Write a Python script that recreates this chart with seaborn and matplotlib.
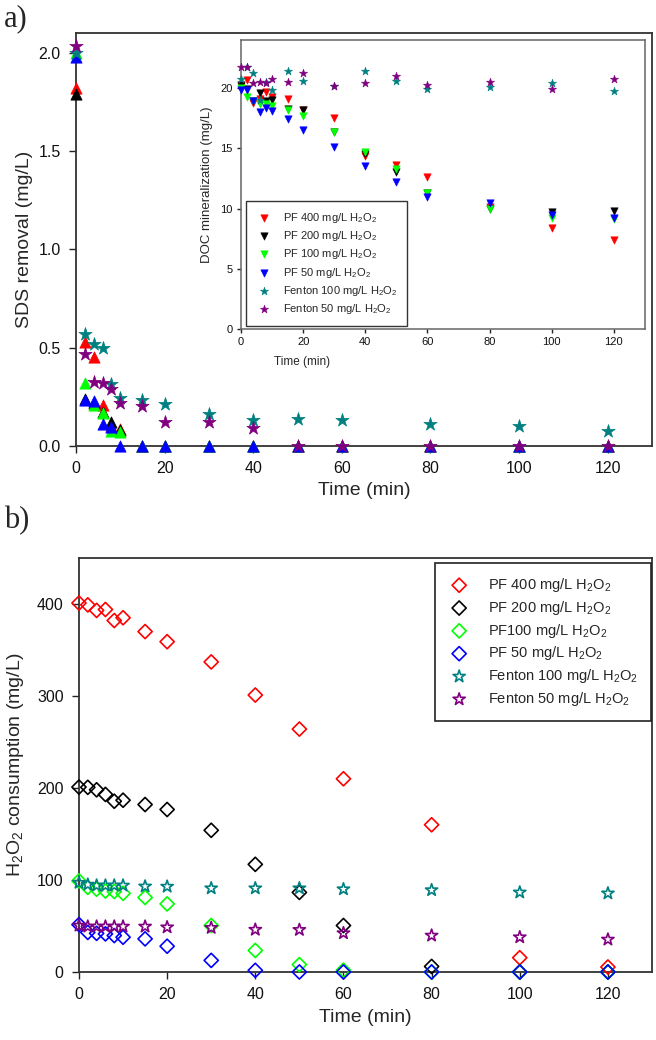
import numpy as np
import pandas as pd
import matplotlib
matplotlib.use("Agg")
import matplotlib.pyplot as plt
import seaborn as sns

sns.set_style("ticks")
plt.rcParams["font.family"] = ["Liberation Sans", "DejaVu Sans"]
plt.rcParams["mathtext.default"] = "regular"

# ---------------- data ----------------
times = [0, 2, 4, 6, 8, 10, 15, 20, 30, 40, 50, 60, 80, 100, 120]

series_a = ["PF 400 mg/L H$_2$O$_2$", "PF 200 mg/L H$_2$O$_2$", "PF 100 mg/L H$_2$O$_2$",
            "PF 50 mg/L H$_2$O$_2$", "Fenton 100 mg/L H$_2$O$_2$", "Fenton 50 mg/L H$_2$O$_2$"]
series_b = ["PF 400 mg/L H$_2$O$_2$", "PF 200 mg/L H$_2$O$_2$", "PF100 mg/L H$_2$O$_2$",
            "PF 50 mg/L H$_2$O$_2$", "Fenton 100 mg/L H$_2$O$_2$", "Fenton 50 mg/L H$_2$O$_2$"]
colors = ["#ff0000", "#000000", "#00ff00", "#0000ff", "#008080", "#800080"]

# (a) SDS removal (mg/L)
sds_pf400 = [1.82, 0.53, 0.45, 0.21, 0.10, 0.085, 0, 0, 0, 0, 0, 0, 0, 0, 0]
sds_pf200 = [1.79, 0.24, 0.22, 0.175, 0.124, 0.08, 0, 0, 0, 0, 0, 0, 0, 0, 0]
sds_pf100 = [2.00, 0.32, 0.21, 0.17, 0.075, 0.07, 0, 0, 0, 0, 0, 0, 0, 0, 0]
sds_pf50 = [1.98, 0.235, 0.23, 0.11, 0.095, 0.0, 0, 0, 0, 0, 0, 0, 0, 0, 0]
sds_fen100 = [2.00, 0.57, 0.52, 0.50, 0.316, 0.243, 0.234, 0.214, 0.161, 0.132, 0.136, 0.131, 0.110, 0.102, 0.076]
sds_fen50 = [2.036, 0.47, 0.325, 0.32, 0.29, 0.22, 0.205, 0.124, 0.124, 0.093, 0, 0, 0, 0, 0]

# (a, inset) DOC mineralization (mg/L)
doc_pf400 = [20.2, 20.7, 18.8, 19.1, 19.7, 19.3, 19.1, 18.2, 17.5, 14.4, 13.65, 12.6, 10.15, 8.4, 7.4]
doc_pf200 = [20.3, 19.9, 18.9, 19.6, 18.9, 19.0, 18.3, 18.15, 16.4, 14.5, 13.05, 11.3, 9.93, 9.74, 9.8]
doc_pf100 = [20.0, 19.25, 18.9, 18.65, 18.65, 18.55, 18.2, 17.65, 16.35, 14.7, 13.3, 11.3, 10.0, 9.2, 9.1]
doc_pf50 = [19.85, 19.85, 18.9, 18.05, 18.35, 18.1, 17.4, 16.55, 15.1, 13.5, 12.2, 11.0, 10.5, 9.45, 9.25]
doc_fen100 = [20.75, 21.8, 21.25, 19.0, 20.55, 19.85, 21.45, 20.6, 20.15, 21.4, 20.6, 19.95, 20.1, 20.4, 19.75]
doc_fen50 = [21.8, 21.8, 20.45, 20.5, 20.4, 20.8, 20.5, 21.25, 20.15, 20.45, 21.05, 20.3, 20.5, 19.95, 20.75]

# (b) H2O2 consumption (mg/L)
h2o2_pf400 = [401, 399, 393, 394, 382, 385, 370, 359, 337, 301, 264, 210, 160, 15.5, 5.4]
h2o2_pf200 = [201, 200.7, 198, 193, 185.6, 186.7, 182, 176.6, 154, 117, 86.5, 50.5, 6, 0, 0]
h2o2_pf100 = [99, 92, 90, 88, 87.5, 85.5, 81, 74, 50.5, 23.4, 8, 2, 0, 0, 0]
h2o2_pf50 = [51.5, 43, 42, 41.4, 39.6, 37.8, 36, 28, 12.6, 1.8, 0, 0, 0, 0, 0]
h2o2_fen100 = [97, 95, 94, 94, 94, 94, 93, 92.8, 91, 91, 91, 90, 89, 86.5, 85.5]
h2o2_fen50 = [50.5, 49.4, 49.4, 49.4, 49.4, 49.4, 49.4, 48.6, 48, 46, 45.8, 42.2, 39.6, 37.8, 35.3]

x_ticks = [0, 20, 40, 60, 80, 100, 120]

sds = [sds_pf400, sds_pf200, sds_pf100, sds_pf50, sds_fen100, sds_fen50]
doc = [doc_pf400, doc_pf200, doc_pf100, doc_pf50, doc_fen100, doc_fen50]
h2o2 = [h2o2_pf400, h2o2_pf200, h2o2_pf100, h2o2_pf50, h2o2_fen100, h2o2_fen50]

# ---------------- figure ----------------
fig = plt.figure(figsize=(6.56, 10.4), dpi=100)
ax_a = fig.add_axes([0.1159, 0.5712, 0.8780, 0.3971])
ax_in = fig.add_axes([0.3674, 0.6837, 0.6158, 0.2778])
ax_b = fig.add_axes([0.1204, 0.0654, 0.8735, 0.3981])

spine_col = "#333333"

def style(ax, lw=1.3, col=spine_col, fs=11.5, tl=5, pad=5):
    for sp in ax.spines.values():
        sp.set_visible(True)
        sp.set_linewidth(lw)
        sp.set_color(col)
    ax.tick_params(direction="out", length=tl, width=1.0, colors="#222222", pad=pad,
                   labelsize=fs, labelcolor="#111111", top=False, right=False)

# main (a)
for vals, col, lab in zip(sds, colors, series_a):
    marker = "*" if "Fenton" in lab else "^"
    sz = 100 if marker == "*" else 66
    sns.scatterplot(x=times, y=vals, ax=ax_a, marker=marker, s=sz, color=col,
                    edgecolor=col, linewidth=0.5, clip_on=False, zorder=3, legend=False)
ax_a.set_xlim(0, 130)
ax_a.set_ylim(0, 2.1)
ax_a.set_xticks(x_ticks)
ax_a.set_yticks([0.0, 0.5, 1.0, 1.5, 2.0])
ax_a.yaxis.set_major_formatter(matplotlib.ticker.FormatStrFormatter("%.1f"))
style(ax_a, pad=6)
ax_a.set_xlabel("Time (min)", fontsize=14, labelpad=4)
ax_a.set_ylabel("SDS removal (mg/L)", fontsize=14, labelpad=4)

# inset
for vals, col, lab in zip(doc, colors, series_a):
    marker = "*" if "Fenton" in lab else "v"
    sz = 38 if marker == "*" else 28
    sns.scatterplot(x=times, y=vals, ax=ax_in, marker=marker, s=sz, color=col,
                    edgecolor=col, linewidth=0.4, label=lab, clip_on=False, zorder=3)
ax_in.set_xlim(0, 130)
ax_in.set_ylim(0, 24)
ax_in.set_xticks(x_ticks)
ax_in.set_yticks([0, 5, 10, 15, 20])
ax_in.set_facecolor("white")
style(ax_in, lw=1.1, col="#666666", fs=8, tl=3, pad=3)
ax_in.set_xlabel("Time (min)", fontsize=8.5)
ax_in.set_ylabel("DOC mineralization (mg/L)", fontsize=9.5, labelpad=5)
ax_in.xaxis.set_label_coords(0.15, -0.095)
leg_in = ax_in.legend(loc="upper left", bbox_to_anchor=(0.012, 0.443), borderaxespad=0,
                      fontsize=8, frameon=True, fancybox=False, edgecolor="#333333",
                      framealpha=1, handletextpad=0.9, labelspacing=0.38, borderpad=0.9,
                      handlelength=1.5, scatterpoints=1)
leg_in.get_frame().set_linewidth(1.0)

# (b)
for vals, col, lab in zip(h2o2, colors, series_b):
    marker = "*" if "Fenton" in lab else "D"
    sz = 85 if marker == "*" else 52
    sns.scatterplot(x=times, y=vals, ax=ax_b, marker=marker, s=sz, facecolor="none",
                    edgecolor=col, linewidth=1.2, label=lab, clip_on=False, zorder=3)
ax_b.set_xlim(0, 130)
ax_b.set_ylim(0, 450)
ax_b.set_xticks(x_ticks)
ax_b.set_yticks([0, 100, 200, 300, 400])
style(ax_b, pad=6)
ax_b.set_xlabel("Time (min)", fontsize=14, labelpad=5)
ax_b.set_ylabel("H$_2$O$_2$ consumption (mg/L)", fontsize=14, labelpad=8)
leg_b = ax_b.legend(loc="upper right", bbox_to_anchor=(0.998, 0.988), borderaxespad=0,
                    fontsize=10.5, frameon=True, fancybox=False, edgecolor="#222222",
                    framealpha=1, handletextpad=1.2, labelspacing=0.33, borderpad=0.9,
                    handlelength=1.5, scatterpoints=1)
leg_b.get_frame().set_linewidth(1.2)

fig.text(0.006, 0.996, "a)", fontsize=22, family="Liberation Serif", va="top", ha="left")
fig.text(0.006, 0.514, "b)", fontsize=22, family="Liberation Serif", va="top", ha="left")

fig.savefig("out.png", dpi=100)
